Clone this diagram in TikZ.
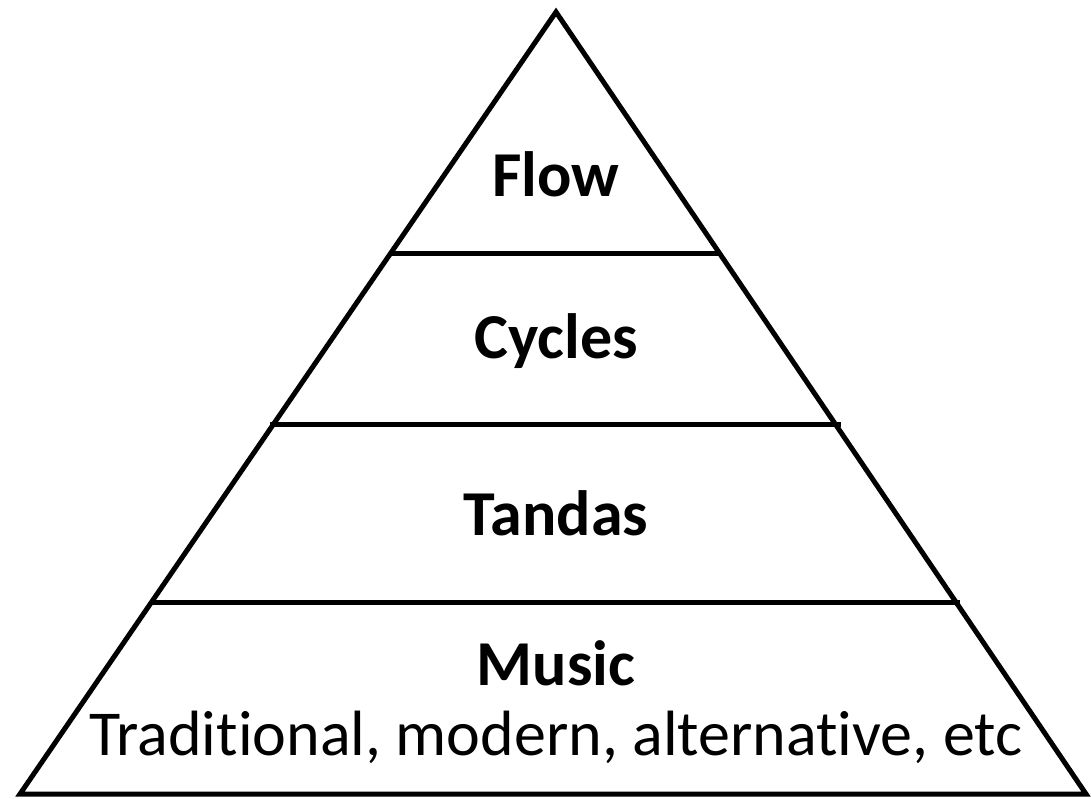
\documentclass[tikz,border=0pt]{standalone}
\usepackage{fontspec}
\setmainfont{Carlito}[Ligatures=NoCommon]
\begin{document}
\begin{tikzpicture}[x=1pt,y=-1pt,
  edge/.style={line width=5pt,line join=miter,line cap=butt},
  level/.style={anchor=base,font=\fontsize{64}{66}\selectfont\bfseries,inner sep=0pt},
  sub/.style={anchor=base,font=\fontsize{64}{66}\selectfont,inner sep=0pt}]
  \useasboundingbox (0,0) rectangle (1091,799);
  % outline of the pyramid
  \coordinate (apex) at (556,12);
  \coordinate (bl) at (20,794);
  \coordinate (br) at (1086,794);
  \draw[edge] (apex) -- (br) -- (bl) -- cycle;
  % dividing lines between the tiers
  \coordinate (l1) at (392,254);  \coordinate (r1) at (720,254);
  \coordinate (l2) at (270,424);  \coordinate (r2) at (841,424);
  \coordinate (l3) at (150,602);  \coordinate (r3) at (960,602);
  \draw[edge] (l1) -- (r1);
  \draw[edge] (l2) -- (r2);
  \draw[edge] (l3) -- (r3);
  % tier labels
  \node[level] (flow) at (556,197) {Flow};
  \node[level] (cycles) at (556,358) {Cycles};
  \node[level] (tandas) at (556,535) {Tandas};
  \node[level] (music) at (556,685) {Music};
  \node[sub] (genres) at (556,755) {Traditional, modern, alternative, etc};
\end{tikzpicture}
\end{document}
